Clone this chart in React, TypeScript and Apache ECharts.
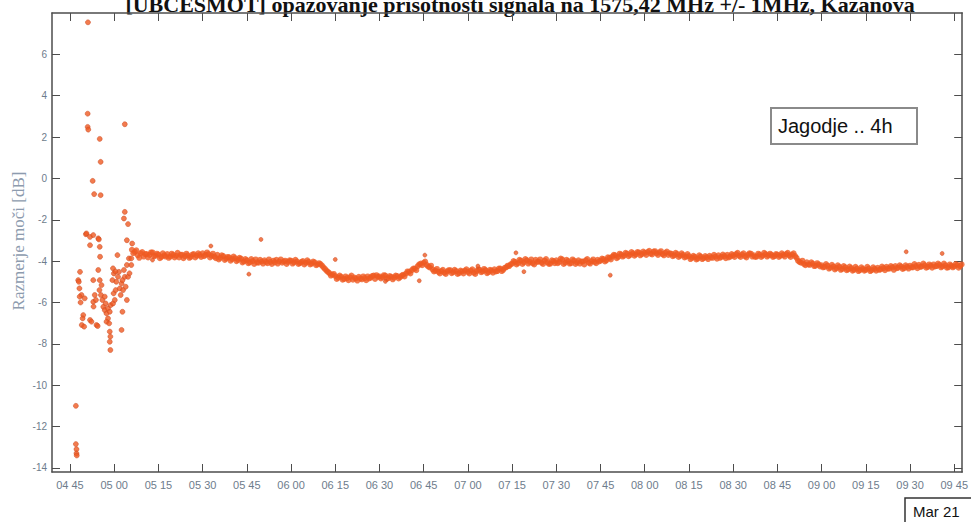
import React, { useEffect, useRef } from "react";
import * as echarts from "echarts";

const titleText = "[UBCESMOT] opazovanje prisotnosti signala na 1575,42 MHz +/- 1MHz, Kazanova";
const yAxisTitle = "Razmerje moči [dB]";
const noteText = "Jagodje .. 4h";
const dateText = "Mar 21";

// x axis in minutes after midnight
const xMin = 278.9;
const xMax = 587.7;
const yMin = -14.2;
const yMax = 8;
const xTickMinutes = [285, 300, 315, 330, 345, 360, 375, 390, 405, 420, 435, 450, 465, 480, 495, 510, 525, 540, 555, 570, 585];
const yTicks = [-14, -12, -10, -8, -6, -4, -2, 0, 2, 4, 6];

// early, scattered measurements (minute, dB)
const earlyTimes = [
  287.0, 287.0, 287.2, 287.2, 287.3, 287.8, 288.0, 288.4, 288.2, 288.9, 288.3, 289.5, 289.3, 289.0, 289.8,
  290.4, 290.6, 291.0, 291.0, 291.2, 291.1, 291.8, 291.8, 291.8, 292.3, 292.7, 292.9, 292.9, 292.9, 293.2,
  293.4, 293.8, 294.0, 294.4, 294.6, 294.6, 294.8, 295.1, 295.1, 295.1, 295.2, 295.4, 295.4, 295.7, 295.0,
  295.5, 296.0, 296.8, 296.3, 297.1, 296.8, 297.4, 297.9, 298.5, 298.8, 297.9, 297.4, 298.3, 298.5, 298.7,
  298.5, 298.7, 299.6, 300.2, 299.4, 299.8, 300.5, 300.7, 301.3, 301.6, 301.1, 299.6, 301.9, 302.5, 302.2,
  303.0, 302.8, 303.6, 303.3, 302.8, 302.5, 303.9, 304.3, 304.7, 304.3, 305.2, 305.0, 303.6, 303.6, 303.3,
  304.7, 304.3, 305.8, 305.8, 306.1, 299.9, 300.4, 288.6, 290.0, 293.0,
];
const earlyValues = [
  -11.0, -12.85, -13.1, -13.3, -13.4, -4.92, -5.0, -4.52, -5.32, -5.64, -5.72, -6.61, -6.77, -7.09, -7.17,
  -2.7, -2.66, 3.13, 2.49, 2.36, 7.55, -2.83, -3.23, -6.85, -6.93, -0.12, -2.74, -4.92, -5.97, -0.76,
  -5.64, -5.88, -7.09, -7.14, -2.9, -4.43, -2.95, 1.91, -3.31, -4.92, -3.79, 0.8, -0.81, -5.16, -5.4,
  -5.64, -5.88, -5.72, -6.21, -6.05, -6.37, -6.53, -6.29, -6.45, -6.13, -6.77, -6.93, -7.01, -7.41, -7.65,
  -7.9, -8.3, -6.05, -5.88, -4.92, -5.56, -5.4, -5.0, -4.76, -4.52, -3.71, -4.35, -5.32, -5.08, -5.64,
  -5.4, -4.92, -4.76, -4.43, -6.45, -7.33, -5.24, -5.88, -4.76, -4.19, -4.59, -3.87, 2.62, -1.62, -1.94,
  -2.21, -2.99, -3.87, -4.19, -3.15, -4.6, -4.5, -6.0, -5.8, -6.2,
];

// steady part: samples on the whole minute starting at 05:06
const bandStartMinute = 306;
const bandValues = [
  -3.45, -3.55, -3.72, -3.62, -3.78, -3.66, -3.7, -3.58, -3.74,
  -3.68, -3.8, -3.72, -3.66, -3.78, -3.7, -3.74, -3.82, -3.69, -3.76, -3.72, -3.8, -3.66, -3.74, -3.7,
  -3.62, -3.7, -3.66, -3.74, -3.78, -3.7, -3.84, -3.76, -3.88, -3.82, -3.9, -3.86, -3.94, -3.88, -4.02,
  -3.96, -4.06, -4.0, -3.92, -4.08, -4.02, -3.96, -4.1, -4.04, -3.98, -3.94, -4.02, -4.08, -3.98, -4.04,
  -3.98, -4.06, -4.02, -4.1, -4.0, -4.08, -4.04, -4.12, -4.06, -4.16, -4.14, -4.3, -4.46, -4.58, -4.66,
  -4.72, -4.8, -4.76, -4.86, -4.82, -4.78, -4.9, -4.84, -4.76, -4.88, -4.82, -4.74, -4.8, -4.7, -4.68,
  -4.74, -4.78, -4.7, -4.82, -4.76, -4.8, -4.72, -4.78, -4.66, -4.6, -4.52, -4.44, -4.36, -4.24, -4.12,
  -4.08, -4.18, -4.3, -4.4, -4.46, -4.52, -4.48, -4.56, -4.5, -4.44, -4.54, -4.48, -4.58, -4.5, -4.46,
  -4.52, -4.46, -4.56, -4.48, -4.42, -4.5, -4.44, -4.54, -4.46, -4.4, -4.48, -4.36, -4.42, -4.3, -4.24,
  -4.12, -4.04, -4.1, -3.98, -4.06, -3.96, -4.04, -4.1, -3.94, -4.02, -4.08, -3.98, -4.06, -4.12, -4.0,
  -3.96, -4.04, -3.92, -4.08, -4.0, -4.1, -3.98, -4.06, -4.12, -4.02, -3.96, -4.08, -4.0, -4.04, -3.94,
  -3.98, -3.9, -3.96, -3.84, -3.78, -3.72, -3.8, -3.68, -3.74, -3.64, -3.7, -3.62, -3.68, -3.58, -3.66,
  -3.6, -3.56, -3.64, -3.54, -3.62, -3.58, -3.66, -3.6, -3.7, -3.64, -3.72, -3.66, -3.74, -3.7, -3.78,
  -3.76, -3.84, -3.8, -3.88, -3.78, -3.86, -3.82, -3.74, -3.84, -3.78, -3.72, -3.8, -3.76, -3.7, -3.78,
  -3.72, -3.66, -3.74, -3.68, -3.76, -3.7, -3.64, -3.72, -3.78, -3.68, -3.74, -3.66, -3.72, -3.7, -3.76,
  -3.68, -3.74, -3.7, -3.66, -3.72, -3.68, -3.76, -3.98, -4.08, -4.14, -4.06, -4.18, -4.12, -4.22, -4.16,
  -4.2, -4.28, -4.22, -4.32, -4.26, -4.34, -4.28, -4.38, -4.3, -4.4, -4.34, -4.42, -4.36, -4.44, -4.38,
  -4.42, -4.36, -4.44, -4.38, -4.32, -4.4, -4.34, -4.28, -4.36, -4.3, -4.24, -4.32, -4.26, -4.34, -4.28,
  -4.22, -4.3, -4.24, -4.18, -4.26, -4.2, -4.28, -4.22, -4.16, -4.24, -4.18, -4.26, -4.2, -4.3, -4.22,
  -4.26, -4.18, -4.24, -4.2,
];

// steady part: samples on the half minute starting at 05:06:30
const bandHalfStartMinute = 306.5;
const bandHalfValues = [
  -3.62, -3.48, -3.84, -3.56, -3.66, -3.82, -3.58, -3.76, -3.64,
  -3.86, -3.62, -3.78, -3.84, -3.64, -3.82, -3.6, -3.7, -3.86, -3.64, -3.84, -3.68, -3.82, -3.62, -3.8,
  -3.76, -3.58, -3.82, -3.64, -3.86, -3.92, -3.72, -3.94, -3.8, -3.98, -3.78, -4.0, -3.84, -4.06, -3.9,
  -4.1, -3.9, -4.14, -4.06, -3.94, -4.12, -4.04, -3.92, -4.14, -4.06, -4.12, -3.92, -4.02, -4.14, -3.96,
  -4.12, -3.94, -4.14, -4.04, -4.16, -3.96, -4.16, -4.02, -4.2, -4.1, -4.22, -4.38, -4.52, -4.7, -4.62,
  -4.86, -4.7, -4.9, -4.74, -4.92, -4.7, -4.8, -4.94, -4.84, -4.74, -4.92, -4.84, -4.72, -4.86, -4.76,
  -4.84, -4.68, -4.86, -4.72, -4.88, -4.7, -4.84, -4.7, -4.74, -4.5, -4.6, -4.36, -4.44, -4.16, -4.2,
  -4.02, -4.26, -4.22, -4.5, -4.38, -4.6, -4.42, -4.62, -4.44, -4.58, -4.42, -4.62, -4.46, -4.6, -4.4,
  -4.6, -4.4, -4.62, -4.4, -4.54, -4.38, -4.58, -4.42, -4.56, -4.5, -4.36, -4.48, -4.32, -4.22, -4.16,
  -4.0, -4.16, -3.94, -4.14, -3.9, -4.12, -3.92, -4.16, -4.04, -3.92, -4.14, -3.9, -4.14, -3.96, -4.1,
  -4.1, -3.88, -4.14, -3.94, -4.12, -3.92, -4.14, -3.96, -4.02, -4.16, -3.9, -4.12, -3.92, -4.1, -4.02,
  -3.88, -4.02, -3.82, -3.92, -3.7, -3.86, -3.64, -3.78, -3.6, -3.76, -3.56, -3.74, -3.56, -3.72, -3.54,
  -3.7, -3.5, -3.68, -3.52, -3.7, -3.52, -3.72, -3.54, -3.62, -3.76, -3.6, -3.8, -3.62, -3.82, -3.66,
  -3.9, -3.74, -3.92, -3.72, -3.9, -3.76, -3.9, -3.82, -3.7, -3.88, -3.84, -3.68, -3.86, -3.82, -3.66,
  -3.8, -3.6, -3.8, -3.62, -3.82, -3.62, -3.78, -3.8, -3.64, -3.8, -3.6, -3.78, -3.64, -3.8, -3.66,
  -3.8, -3.62, -3.78, -3.6, -3.8, -3.62, -3.84, -4.04, -3.98, -4.2, -4.16, -4.06, -4.24, -4.1, -4.26,
  -4.3, -4.14, -4.36, -4.18, -4.4, -4.2, -4.42, -4.24, -4.44, -4.26, -4.46, -4.28, -4.48, -4.3, -4.46,
  -4.28, -4.48, -4.3, -4.46, -4.42, -4.26, -4.44, -4.36, -4.24, -4.42, -4.34, -4.2, -4.38, -4.2, -4.36,
  -4.3, -4.14, -4.34, -4.28, -4.12, -4.32, -4.16, -4.32, -4.26, -4.12, -4.3, -4.12, -4.32, -4.16, -4.3,
  -4.14, -4.32, -4.16,
];

// stray points around the steady part
const outlierTimes = [349.8, 345.7, 375.0, 405.4, 403.5, 332.8, 436.3, 423.4, 468.3, 439.0, 568.7, 580.9, 313.0, 392.0];
const outlierValues = [-2.95, -4.63, -3.92, -3.71, -4.95, -3.27, -3.6, -4.24, -4.68, -4.51, -3.55, -3.63, -3.95, -4.98];

const markerColor = "#ef5a22";
const axisColor = "#4d4d4d";
const labelColor = "#6e7c8c";

const fmtTime = (m: number) => {
  const h = Math.floor(m / 60);
  const mm = Math.round(m - h * 60);
  return String(h).padStart(2, "0") + " " + String(mm).padStart(2, "0");
};

export default function App() {
  const ref = useRef<HTMLDivElement>(null);
  useEffect(() => {
    document.body.style.margin = "0";
    if (!ref.current) return;
    const chart = echarts.init(ref.current, undefined, { renderer: "svg" });
    const early = earlyTimes.map((t, i) => [t, earlyValues[i]]);
    const band = bandValues.map((v, i) => [bandStartMinute + i, v]);
    const bandHalf = bandHalfValues.map((v, i) => [bandHalfStartMinute + i, v]);
    const outliers = outlierTimes.map((t, i) => [t, outlierValues[i]]);
    const tickLabelStyle = { color: labelColor, fontSize: 11, fontFamily: "Liberation Sans, Arial, sans-serif" };
    const axisLineStyle = { show: true, onZero: false, lineStyle: { color: axisColor, width: 1.5 } };
    chart.setOption({
      animation: false,
      backgroundColor: "#ffffff",
      grid: { left: 52, right: 4, top: 13, bottom: 50, containLabel: false },
      xAxis: [
        {
          type: "value",
          min: xMin,
          max: xMax,
          position: "bottom",
          axisLine: axisLineStyle,
          axisTick: { show: true, inside: true, length: 8, customValues: xTickMinutes, lineStyle: { color: axisColor } },
          axisLabel: { show: true, customValues: xTickMinutes, formatter: (v: number) => fmtTime(v), margin: 7, ...tickLabelStyle },
          splitLine: { show: false },
        },
        {
          type: "value",
          min: xMin,
          max: xMax,
          position: "top",
          axisLine: axisLineStyle,
          axisTick: { show: true, inside: true, length: 8, customValues: xTickMinutes, lineStyle: { color: axisColor } },
          axisLabel: { show: false },
          splitLine: { show: false },
        },
      ],
      yAxis: [
        {
          type: "value",
          min: yMin,
          max: yMax,
          position: "left",
          axisLine: axisLineStyle,
          axisTick: { show: true, inside: true, length: 8, customValues: yTicks, lineStyle: { color: axisColor } },
          axisLabel: { show: true, customValues: yTicks, margin: 5, ...tickLabelStyle, fontSize: 10 },
          splitLine: { show: false },
        },
        {
          type: "value",
          min: yMin,
          max: yMax,
          position: "right",
          axisLine: axisLineStyle,
          axisTick: { show: true, inside: true, length: 8, customValues: yTicks, lineStyle: { color: axisColor } },
          axisLabel: { show: false },
          splitLine: { show: false },
        },
      ],
      series: [
        {
          type: "scatter",
          data: early,
          symbol: "circle",
          symbolSize: 5,
          itemStyle: { color: markerColor, borderColor: "#c8461e", borderWidth: 0.6 },
        },
        {
          type: "scatter",
          data: band,
          symbol: "circle",
          symbolSize: 6,
          itemStyle: { color: markerColor },
        },
        {
          type: "scatter",
          data: bandHalf,
          symbol: "circle",
          symbolSize: 6,
          itemStyle: { color: markerColor },
        },
        {
          type: "scatter",
          data: outliers,
          symbol: "circle",
          symbolSize: 4,
          itemStyle: { color: markerColor, borderColor: "#c8461e", borderWidth: 0.6 },
        },
      ],
      graphic: [
        {
          type: "text",
          x: 520,
          y: 15,
          style: {
            text: titleText,
            fontFamily: "Liberation Serif, Times New Roman, serif",
            fontWeight: "bold",
            fontSize: 22,
            fill: "#111111",
            textAlign: "center",
            textVerticalAlign: "bottom",
          },
        },
        {
          type: "text",
          x: 18,
          y: 241,
          rotation: Math.PI / 2,
          style: {
            text: yAxisTitle,
            fontFamily: "Liberation Serif, Times New Roman, serif",
            fontSize: 17,
            fill: "#8d9bae",
            textAlign: "center",
            textVerticalAlign: "middle",
          },
        },
        {
          type: "rect",
          shape: { x: 771, y: 108, width: 146, height: 36 },
          style: { fill: "#ffffff", stroke: "#8a8a8a", lineWidth: 2 },
        },
        {
          type: "text",
          x: 778,
          y: 126,
          style: {
            text: noteText,
            fontFamily: "Liberation Sans, Arial, sans-serif",
            fontSize: 20,
            fill: "#111111",
            textAlign: "left",
            textVerticalAlign: "middle",
          },
        },
        {
          type: "rect",
          shape: { x: 905, y: 498, width: 80, height: 40 },
          style: { fill: "#ffffff", stroke: "#333333", lineWidth: 1.5 },
        },
        {
          type: "text",
          x: 913,
          y: 511,
          style: {
            text: dateText,
            fontFamily: "Liberation Sans, Arial, sans-serif",
            fontSize: 15,
            fill: "#111111",
            textAlign: "left",
            textVerticalAlign: "middle",
          },
        },
      ],
    });
    return () => chart.dispose();
  }, []);
  return <div ref={ref} style={{ width: 971, height: 522 }} />;
}
